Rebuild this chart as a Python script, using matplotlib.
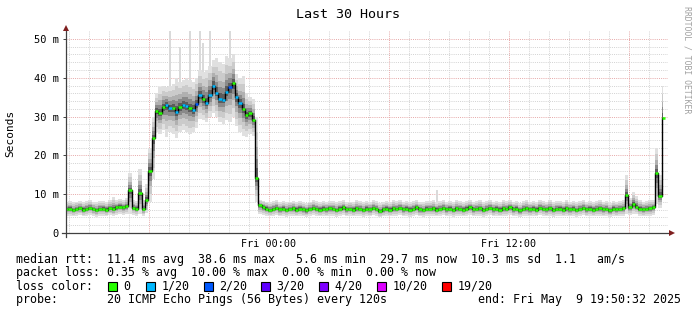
import numpy as np
import matplotlib
matplotlib.use("Agg")
import matplotlib.pyplot as plt
from matplotlib.patches import Rectangle

# ---------------- data ----------------
title = "Last 30 Hours"
ylabel = "Seconds"
step_h = 1 / 6          # one sample every 10 minutes
first_hour = 0.05       # hours after graph start
start_clock = 13 + 50 / 60 + 32 / 3600   # Thu 13:50:32

median_ms = [
    6.1, 6.3, 5.9, 6.2, 6.4, 6.0, 6.2, 6.5, 6.1, 5.8,
    6.2, 6.3, 6.0, 6.4, 6.1, 6.6, 6.8, 6.6, 6.9, 11.0,
    6.5, 6.3, 10.4, 6.1, 8.6, 16.0, 24.5, 31.5, 31.0, 32.4,
    33.0, 32.1, 32.2, 31.2, 32.5, 33.0, 32.7, 32.2, 31.7, 33.2,
    35.5, 34.5, 33.5, 35.6, 38.0, 36.2, 34.5, 34.4, 36.4, 37.5,
    38.6, 35.0, 33.4, 32.0, 30.4, 30.8, 29.2, 14.1, 7.1, 6.6,
    6.3, 6.0, 6.2, 6.5, 6.1, 6.3, 5.9, 6.2, 6.4, 6.0,
    6.3, 6.1, 5.8, 6.2, 6.5, 6.2, 6.0, 6.3, 6.1, 6.4,
    6.2, 5.9, 6.3, 6.6, 6.1, 6.2, 6.0, 6.4, 6.2, 5.9,
    6.3, 6.1, 6.5, 6.2, 5.6, 6.1, 6.3, 6.0, 6.4, 6.2,
    6.5, 6.1, 6.3, 6.0, 6.2, 6.6, 6.1, 5.9, 6.3, 6.2,
    6.4, 6.0, 6.2, 6.5, 6.1, 6.3, 5.9, 6.4, 6.2, 6.0,
    6.3, 6.6, 6.1, 6.2, 6.4, 5.9, 6.2, 6.5, 6.1, 6.3,
    6.0, 6.4, 6.2, 6.6, 6.1, 6.3, 5.8, 6.2, 6.4, 6.1,
    6.3, 6.0, 6.5, 6.2, 6.1, 6.4, 5.9, 6.2, 6.3, 6.0,
    6.4, 6.1, 6.3, 5.9, 6.2, 6.5, 6.1, 6.3, 6.0, 6.2,
    6.4, 6.1, 6.2, 5.8, 6.3, 6.1, 6.2, 6.4, 9.8, 6.6,
    7.5, 6.8, 6.3, 6.1, 6.2, 6.4, 6.6, 15.5, 9.6, 29.7,
]

smoke_lo = [
    4.5, 4.4, 4.3, 4.5, 4.6, 4.3, 4.4, 4.6, 4.4, 4.2,
    4.5, 4.4, 4.3, 4.6, 4.4, 4.7, 4.8, 4.6, 4.9, 5.0,
    4.6, 4.5, 4.8, 4.4, 5.2, 8.0, 14.0, 26.0, 25.5, 26.5,
    24.8, 26.0, 25.5, 24.5, 26.0, 26.5, 26.0, 25.5, 26.0, 27.0,
    29.5, 29.0, 28.5, 30.0, 31.0, 30.0, 28.5, 28.0, 29.0, 28.5,
    30.0, 27.5, 26.0, 25.0, 24.8, 25.5, 25.0, 8.0, 4.8, 4.6,
    4.4, 4.3, 4.4, 4.6, 4.3, 4.4, 4.2, 4.4, 4.5, 4.3,
    4.4, 4.3, 4.1, 4.4, 4.6, 4.4, 4.3, 4.5, 4.3, 4.5,
    4.4, 4.2, 4.5, 4.7, 4.3, 4.4, 4.3, 4.5, 4.4, 4.2,
    4.5, 4.3, 4.6, 4.4, 4.0, 4.3, 4.5, 4.3, 4.5, 4.4,
    4.6, 4.3, 4.5, 4.2, 4.4, 4.7, 4.3, 4.2, 4.5, 4.4,
    4.5, 4.3, 4.4, 4.6, 4.3, 4.5, 4.2, 4.5, 4.4, 4.3,
    4.5, 4.7, 4.3, 4.4, 4.5, 4.2, 4.4, 4.6, 4.3, 4.5,
    4.3, 4.5, 4.4, 4.7, 4.3, 4.5, 4.1, 4.4, 4.5, 4.3,
    4.5, 4.3, 4.6, 4.4, 4.3, 4.5, 4.2, 4.4, 4.5, 4.3,
    4.5, 4.3, 4.5, 4.2, 4.4, 4.6, 4.3, 4.5, 4.3, 4.4,
    4.5, 4.3, 4.4, 4.1, 4.5, 4.3, 4.4, 4.5, 5.0, 4.7,
    4.9, 4.8, 4.5, 4.3, 4.4, 4.5, 4.7, 7.5, 6.5, 12.0,
]

smoke_hi = [
    8.0, 8.2, 7.9, 8.1, 8.3, 8.0, 8.2, 8.4, 8.1, 7.9,
    8.2, 8.3, 8.0, 8.4, 9.2, 8.5, 8.7, 8.6, 9.0, 15.5,
    8.5, 8.3, 16.5, 8.4, 12.5, 22.0, 30.0, 36.0, 37.5, 38.0,
    37.5, 38.0, 38.5, 40.0, 39.0, 39.5, 40.0, 39.5, 39.0, 40.0,
    42.0, 41.5, 42.0, 43.0, 44.5, 45.0, 44.0, 43.5, 45.5, 45.0,
    46.0, 41.0, 40.0, 40.5, 36.0, 35.0, 34.5, 30.0, 8.6, 8.3,
    8.1, 7.9, 8.2, 8.4, 8.0, 8.3, 7.9, 8.1, 8.3, 8.0,
    8.2, 8.0, 7.8, 8.1, 8.4, 8.2, 8.0, 8.3, 8.1, 8.2,
    8.2, 7.9, 8.3, 8.6, 8.0, 8.1, 8.0, 8.4, 8.2, 7.9,
    8.3, 8.1, 8.4, 8.2, 7.7, 8.1, 8.3, 8.0, 8.4, 8.2,
    8.5, 8.1, 8.3, 8.0, 8.2, 8.6, 8.1, 7.9, 8.3, 8.2,
    8.4, 8.0, 8.2, 8.5, 8.1, 8.3, 7.9, 8.4, 8.2, 8.0,
    8.3, 8.6, 8.1, 8.2, 8.4, 7.9, 8.2, 8.5, 8.1, 8.3,
    8.0, 8.4, 8.2, 8.6, 8.1, 8.3, 7.8, 8.2, 8.4, 8.1,
    8.3, 8.0, 8.5, 8.2, 8.1, 8.4, 7.9, 8.2, 8.3, 8.0,
    8.4, 8.1, 8.3, 7.9, 8.2, 8.5, 8.1, 8.3, 8.0, 8.2,
    8.4, 8.1, 8.2, 7.8, 8.3, 8.1, 8.2, 8.4, 15.0, 9.0,
    10.5, 9.5, 8.6, 8.1, 8.2, 8.4, 8.6, 22.0, 15.0, 38.0,
]

# isolated tall ping spikes (sample index, top in ms)
spike_idx = [31, 34, 37, 40, 41, 43, 49, 111]
spike_top = [52.0, 48.0, 52.0, 52.0, 49.0, 52.0, 52.0, 11.0]

# packets lost per sample (out of 20)
loss_count = [0] * 180
for i in [30, 31, 33, 35, 36, 38, 40, 42, 43, 44, 45, 46, 47, 48, 51, 52]:
    loss_count[i] = 1
for i in [39, 49]:
    loss_count[i] = 2

loss_levels = [0, 1, 2, 3, 4, 10, 19]
loss_labels = ["0", "1/20", "2/20", "3/20", "4/20", "10/20", "19/20"]
loss_hex = ["#26ff00", "#00b8ff", "#0059ff", "#5e00ff", "#7e00ff", "#dd00ff", "#ff0000"]

ytick_vals = [0, 10, 20, 30, 40, 50]
ytick_labels = ["0", "10 m", "20 m", "30 m", "40 m", "50 m"]
xtick_clock = [24, 36]
xtick_labels = ["Fri 00:00", "Fri 12:00"]

legend_rtt = "median rtt:  11.4 ms avg  38.6 ms max   5.6 ms min  29.7 ms now  10.3 ms sd  1.1   am/s"
legend_loss = "packet loss: 0.35 % avg  10.00 % max  0.00 % min  0.00 % now"
legend_probe = "probe:       20 ICMP Echo Pings (56 Bytes) every 120s"
legend_end = "end: Fri May  9 19:50:32 2025"

# ---------------- figure ----------------
W, H = 697, 315
plt.rcParams['font.family'] = ['DejaVu Sans Mono', 'DejaVu Sans']
fig = plt.figure(figsize=(W / 100, H / 100), dpi=100)
fig.patch.set_facecolor('white')

ax = fig.add_axes([65.7 / W, 82 / H, 602 / W, (233 - 31.2) / H])
ax.set_facecolor('white')
ax.set_xlim(0, 30.1)
ax.set_ylim(0, 52)
for s in ax.spines.values():
    s.set_visible(False)

med = np.array(median_ms)
lo_arr = np.array(smoke_lo)
hi_arr = np.array(smoke_hi)
n = len(med)
hours = first_hour + np.arange(n) * step_h

# grid
dots = (0, (1, 1.2))
minor_c, major_c = '#d2d2d2', '#e6a8a8'
for v in np.arange(2, 52, 2):
    major = (v % 10 == 0)
    ax.axhline(v, color=major_c if major else minor_c, lw=0.7, ls=dots, zorder=0.5 if major else 0.3)
first_grid = np.ceil(start_clock) - start_clock
grid_h = first_grid + np.arange(0, 31)
grid_h = grid_h[grid_h < 30.05]
for g in grid_h:
    clock = (start_clock + g) % 24
    major = (round(clock) % 6 == 0)
    ax.axvline(g, color=major_c if major else minor_c, lw=0.7, ls=dots, zorder=0.5 if major else 0.3)

# smoke
fracs = [1.0, 0.75, 0.5, 0.32, 0.16]
shades = ['#e0e0e0', '#cbcbcb', '#b0b0b0', '#8a8a8a', '#5c5c5c']
for f, c in zip(fracs, shades):
    ax.fill_between(hours, med - f * (med - lo_arr), med + f * (hi_arr - med),
                    step='mid', color=c, lw=0, zorder=2)
sidx = np.array(spike_idx)
ax.bar(hours[sidx], np.array(spike_top) - hi_arr[sidx], bottom=hi_arr[sidx],
       width=step_h * 0.6, color='#dadada', lw=0, zorder=1.9)

# median line with loss colours
ax.plot(hours, med, drawstyle='steps-mid', color='black', lw=1.0, zorder=4)

def loss_colour(c):
    col = loss_hex[0]
    for lv, hx in zip(loss_levels, loss_hex):
        if c >= lv:
            col = hx
    return col

ax.hlines(med, hours - step_h / 2, hours + step_h / 2,
          colors=[loss_colour(c) for c in loss_count], lw=1.8, zorder=5)

# axes lines and arrows
axis_col = '#404040'
arrow_col = '#7f1f1f'
ax.plot([0, 0], [-1.0, 52.3], color=axis_col, lw=0.9, clip_on=False, zorder=6)
ax.plot([-0.2, 30.2], [0, 0], color=axis_col, lw=0.9, clip_on=False, zorder=6)
ax.plot([0], [52.9], marker='^', ms=4.5, color=arrow_col, clip_on=False, zorder=7, mew=0)
ax.plot([30.3], [0], marker='>', ms=4.5, color=arrow_col, clip_on=False, zorder=7, mew=0)

# ticks
ax.set_yticks(ytick_vals)
ax.set_yticklabels(ytick_labels)
ax.set_xticks([c - start_clock for c in xtick_clock])
ax.set_xticklabels(xtick_labels)
ax.tick_params(axis='y', length=2.2, width=0.7, color=axis_col, pad=2.6, labelsize=7.5, direction='out')
ax.tick_params(axis='x', length=0, pad=4.6, labelsize=7.3)

# texts
def ftext(x, y, s, **kw):
    kw.setdefault('va', 'center')
    kw.setdefault('ha', 'left')
    kw.setdefault('fontsize', 8.4)
    fig.text(x / W, 1 - y / H, s, **kw)

ftext(348, 14, title, ha='center', fontsize=9.6)
ftext(10, 133, ylabel, ha='center', rotation=90, fontsize=8.0)
ftext(687, 60, "RRDTOOL / TOBI OETIKER", ha='center', rotation=270, fontsize=5.9, color='#a0a0a0')

ftext(16, 259, legend_rtt)
ftext(16, 272.5, legend_loss)

ftext(16, 286, "loss color:")
box_x = [108, 146, 204, 261, 319, 377, 442]
for bx, hx, lab in zip(box_x, loss_hex, loss_labels):
    fig.add_artist(Rectangle((bx / W, 1 - 290.5 / H), 8.5 / W, 9 / H, transform=fig.transFigure,
                             facecolor=hx, edgecolor='black', lw=0.8))
    ftext(bx + 15.5, 286, lab)

ftext(16, 299.5, legend_probe)
ftext(681, 299.5, legend_end, ha='right')

fig.savefig("out.png", dpi=100, facecolor='white')
